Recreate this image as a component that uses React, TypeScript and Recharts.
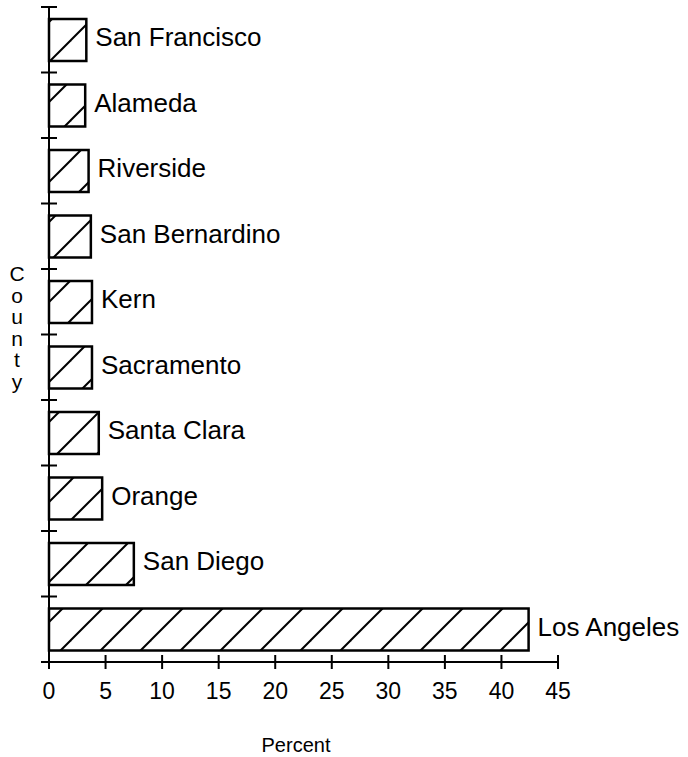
import React from "react";
import { BarChart, Bar, XAxis, YAxis, LabelList } from "recharts";

// county shares (percent)
const counties = [
  "San Francisco",
  "Alameda",
  "Riverside",
  "San Bernardino",
  "Kern",
  "Sacramento",
  "Santa Clara",
  "Orange",
  "San Diego",
  "Los Angeles",
];
const percents = [3.3, 3.2, 3.5, 3.7, 3.8, 3.8, 4.4, 4.7, 7.5, 42.4];
const xTicks = [0, 5, 10, 15, 20, 25, 30, 35, 40, 45];
const yTitle = "County";
const xTitle = "Percent";

const data = counties.map((county, i) => ({ county, value: percents[i] }));

const FONT = "'Liberation Sans', Arial, Helvetica, sans-serif";
const BAND = 65.5;

function CountyTick(props: any) {
  const { x, y, index } = props;
  return (
    <g>
      <line x1={x - 8} x2={x + 8} y1={y - BAND / 2} y2={y - BAND / 2} stroke="#000" strokeWidth={2} />
      {index === counties.length - 1 && (
        <line x1={x - 8} x2={x + 8} y1={y + BAND / 2} y2={y + BAND / 2} stroke="#000" strokeWidth={2} />
      )}
    </g>
  );
}

function PercentTick(props: any) {
  const { x, y, payload } = props;
  return (
    <g>
      <line x1={x} x2={x} y1={y - 7} y2={y + 7} stroke="#000" strokeWidth={2} />
      <text x={x} y={y + 37} textAnchor="middle" fontSize={23} fontFamily={FONT} fill="#000">
        {payload.value}
      </text>
    </g>
  );
}

function BarName(props: any) {
  const { x, y, width, height, value } = props;
  return (
    <text
      x={x + width + 9}
      y={y + height / 2 + 6}
      fontSize={26}
      fontFamily={FONT}
      fill="#000"
    >
      {value}
    </text>
  );
}

function CountyTitle() {
  return (
    <text x={17} y={281} textAnchor="middle" fontSize={21} fontFamily={FONT} fill="#000">
      {yTitle.split("").map((ch, i) => (
        <tspan key={i} x={17} dy={i === 0 ? 0 : 21.5}>
          {ch}
        </tspan>
      ))}
    </text>
  );
}

function PercentTitle() {
  return (
    <text x={296} y={752} textAnchor="middle" fontSize={20} fontFamily={FONT} fill="#000">
      {xTitle}
    </text>
  );
}

export default function App() {
  return (
    <div style={{ position: "absolute", left: 0, top: 0, background: "#fff" }}>
      <BarChart
        width={688}
        height={757}
        data={data}
        layout="vertical"
        margin={{ top: 7, right: 130, left: 0, bottom: 0 }}
      >
        <defs>
          <pattern id="hatch" patternUnits="userSpaceOnUse" x={31} y={0} width={40} height={40}>
            <line x1={0} y1={40} x2={40} y2={0} stroke="#000" strokeWidth={2} />
            <line x1={-10} y1={10} x2={10} y2={-10} stroke="#000" strokeWidth={2} />
            <line x1={30} y1={50} x2={50} y2={30} stroke="#000" strokeWidth={2} />
          </pattern>
        </defs>
        <XAxis
          type="number"
          domain={[0, 45]}
          ticks={xTicks}
          height={95}
          axisLine={{ stroke: "#000", strokeWidth: 2 }}
          tickLine={false}
          tickSize={0}
          tickMargin={0}
          tick={<PercentTick />}
          interval={0}
          label={{ value: xTitle, content: () => <PercentTitle /> }}
        />
        <YAxis
          type="category"
          dataKey="county"
          width={49}
          axisLine={{ stroke: "#000", strokeWidth: 2 }}
          tickLine={false}
          tickSize={0}
          tickMargin={0}
          tick={<CountyTick />}
          interval={0}
          label={{ value: yTitle, content: () => <CountyTitle /> }}
        />
        <Bar
          dataKey="value"
          barSize={42}
          fill="url(#hatch)"
          stroke="#000"
          strokeWidth={2.5}
          isAnimationActive={false}
        >
          <LabelList dataKey="county" content={<BarName />} />
        </Bar>
      </BarChart>
    </div>
  );
}
